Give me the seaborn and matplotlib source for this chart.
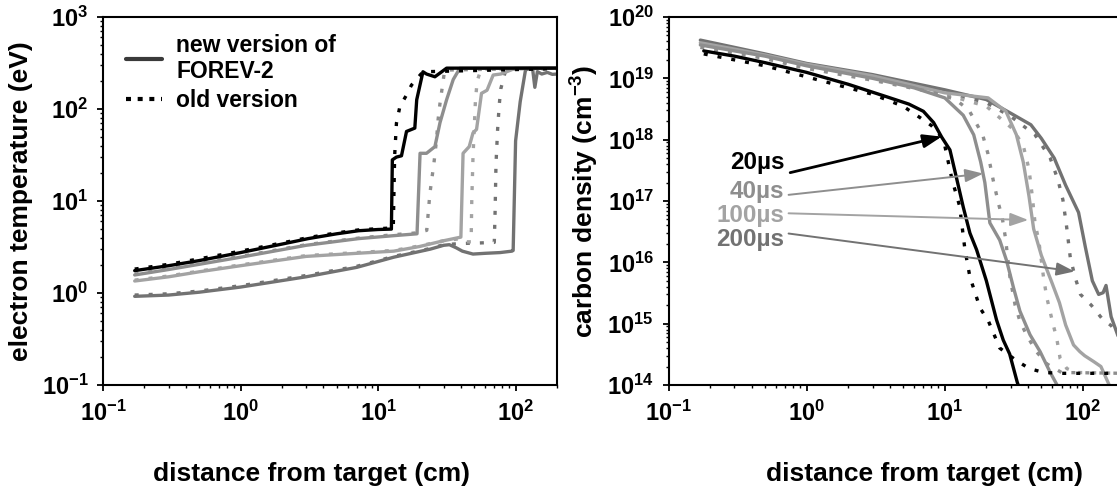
import matplotlib
matplotlib.use("Agg")
import numpy as np
import matplotlib.pyplot as plt
from matplotlib.lines import Line2D
from matplotlib.ticker import LogLocator, FuncFormatter, NullFormatter
import seaborn as sns

# ---------------- electron temperature (eV) vs distance (cm) ----------------
t20_new_x = [0.17, 0.3, 0.5, 1.0, 2.0, 3.1, 5.0, 7.2, 10.0, 12.5, 12.7, 13.6, 14.8, 16.1, 18.5, 19.1, 21.2, 22.5, 25.9, 31.5, 200]
t20_new_y = [1.75, 1.98, 2.25, 2.75, 3.4, 3.9, 4.4, 4.75, 4.9, 4.95, 28, 30, 31, 57, 62, 126, 254, 240, 224, 278, 278]
t20_old_x = [0.17, 0.3, 0.5, 1.0, 2.0, 3.1, 5.0, 7.2, 10.0, 12.9, 13.2, 13.6, 14.4, 16.1, 17.5, 21.2, 200]
t20_old_y = [1.82, 2.05, 2.35, 2.85, 3.5, 4.0, 4.5, 4.85, 5.0, 5.1, 31, 70, 106, 142, 182, 254, 275]

t40_new_x = [0.17, 0.3, 0.5, 1.0, 3.0, 7.2, 13.0, 19.2, 20.2, 22.5, 25.9, 28.2, 31.5, 35.2, 39.3, 200]
t40_new_y = [1.57, 1.8, 2.05, 2.45, 3.3, 3.9, 4.2, 4.4, 33, 33, 39, 71, 126, 209, 277, 280]
t40_old_x = [0.17, 0.3, 0.5, 1.0, 3.0, 7.2, 13.0, 19.0, 22.6, 23.8, 25.5, 26.6, 27.3, 28.2, 30.5, 200]
t40_old_y = [1.6, 1.83, 2.1, 2.5, 3.35, 3.95, 4.3, 4.5, 4.8, 12, 26, 46, 76, 115, 265, 278]

t100_new_x = [0.17, 0.3, 0.5, 1.0, 3.0, 7.0, 13.0, 20.0, 30.0, 40.0, 41.5, 46.0, 49.0, 52.0, 56.5, 62.0, 68.7, 78.0, 86.0, 100.0, 200]
t100_new_y = [1.35, 1.5, 1.7, 1.98, 2.5, 2.7, 2.85, 3.2, 3.7, 4.05, 33, 39, 55, 60, 148, 160, 234, 240, 254, 278, 280]
t100_old_x = [0.17, 0.3, 0.5, 1.0, 3.0, 7.0, 13.0, 20.0, 30.0, 40.0, 44.0, 47.5, 48.0, 49.0, 50.0, 51.0, 52.5, 56.0, 200]
t100_old_y = [1.38, 1.53, 1.73, 2.02, 2.55, 2.75, 2.9, 3.25, 3.7, 3.9, 3.6, 3.6, 10, 30, 60, 120, 200, 270, 278]

t200_new_x = [0.17, 0.3, 0.5, 1.0, 3.0, 7.0, 13.0, 24.0, 30.0, 33.0, 37.0, 41.0, 49.0, 60.0, 77.0, 94.0, 96.0,
              100.0, 108.0, 118.0, 128.0, 133.0, 138.0, 144.0, 155.0, 170.0, 185.0, 200]
t200_new_y = [0.92, 0.95, 1.02, 1.16, 1.5, 1.9, 2.45, 3.0, 3.3, 3.35, 3.1, 2.85, 2.65, 2.7, 2.75, 2.85, 2.9,
              45, 120, 265, 278, 272, 172, 255, 240, 250, 238, 240]
t200_old_x = [0.17, 0.3, 0.5, 1.0, 3.0, 7.0, 13.0, 24.0, 30.0, 40.0, 55.0, 70.0, 71.0, 72.0, 74.0, 76.0, 78.0, 85.0, 200]
t200_old_y = [0.95, 0.98, 1.05, 1.2, 1.55, 1.95, 2.5, 3.05, 3.35, 3.45, 3.5, 3.55, 8, 25, 60, 110, 165, 270, 275]

# ---------------- carbon density (cm^-3) vs distance (cm) ----------------
n20_new_x = [0.18, 0.3, 0.5, 1.0, 2.0, 3.8, 5.5, 7.0, 8.3, 9.5, 10.9, 12.2, 13.6, 15.2, 17.0, 20.0, 23.7, 26.5, 29.5, 33.5, 36.0]
n20_new_y = [2.8e19, 2.3e19, 1.8e19, 1.25e19, 8e18, 5e18, 3.8e18, 2.9e18, 1.9e18, 1.1e18, 6.8e17, 2.3e17, 8e16,
             3e16, 1.6e16, 5e15, 1.15e15, 5.4e14, 3.2e14, 1.1e14, 7e13]
n20_old_x = [0.18, 0.3, 0.5, 1.24, 3.0, 5.0, 6.6, 8.0, 9.0, 10.0, 11.3, 12.8, 14.0, 15.2, 18.0, 20.7, 25.0, 33.0,
             41.0, 52.0, 70.0, 200]
n20_old_y = [2.5e19, 2.0e19, 1.6e19, 9.3e18, 5.5e18, 3.5e18, 2.3e18, 1.7e18, 1.3e18, 8e17, 2.2e17, 8.3e16, 1.6e16,
             5.8e15, 1.8e15, 1.1e15, 4e14, 2.5e14, 1.85e14, 1.6e14, 1.55e14, 1.55e14]

n40_new_x = [0.17, 0.3, 0.5, 1.0, 3.0, 6.0, 10.0, 13.6, 16.2, 18.2, 19.5, 21.2, 25.0, 28.0, 31.4, 35.0, 41.4, 49.0,
             58.0, 65.0, 70.0]
n40_new_y = [3.5e19, 2.8e19, 2.3e19, 1.6e19, 1.0e19, 7e18, 4.8e18, 2.5e18, 1.2e18, 4.3e17, 2e17, 4.4e16, 2.3e16,
             1.07e16, 3.9e15, 1.6e15, 6.6e14, 3.5e14, 1.6e14, 1e14, 7e13]
n40_old_x = [0.17, 0.3, 0.5, 1.0, 3.0, 8.0, 12.0, 15.0, 18.8, 20.5, 22.4, 24.5, 26.0, 27.5, 29.6, 32.3, 35.0, 39.0,
             46.0, 55.0, 70.0, 200]
n40_old_y = [3.2e19, 2.6e19, 2.1e19, 1.45e19, 9.3e18, 6e18, 4.5e18, 3e18, 1.2e18, 6e17, 2.2e17, 9e16, 5.5e16, 2.5e16,
             5.8e15, 2e15, 1.1e15, 6.6e14, 3.5e14, 2.2e14, 1.6e14, 1.55e14]

n100_new_x = [0.17, 0.3, 0.5, 1.0, 3.0, 10.0, 20.6, 27.7, 33.0, 37.0, 40.7, 44.0, 50.0, 60.0, 67.6, 75.0, 85.5, 95.0,
              103.0, 120.0, 135.0, 155.0, 165.0]
n100_new_y = [3.8e19, 3.0e19, 2.4e19, 1.7e19, 1.1e19, 5.8e18, 4.8e18, 2.9e18, 1.2e18, 4.3e17, 1.2e17, 3.5e16, 1.3e16,
              4.5e15, 2.2e15, 9.5e14, 4.5e14, 3.5e14, 3.0e14, 2.4e14, 2.0e14, 1.0e14, 7e13]
n100_old_x = [0.17, 0.3, 0.5, 1.0, 3.0, 10.0, 20.0, 31.0, 37.0, 40.7, 43.0, 45.0, 48.0, 51.8, 54.7, 61.0, 64.6, 68.4,
              76.5, 90.0, 200]
n100_old_y = [3.6e19, 2.9e19, 2.3e19, 1.6e19, 1.05e19, 5.5e18, 3.5e18, 1.5e18, 8e17, 3.3e17, 1.2e17, 4.4e16, 2.2e16,
              5.8e15, 2.7e15, 9.5e14, 5.8e14, 2.7e14, 1.85e14, 1.6e14, 1.55e14]

n200_new_x = [0.17, 0.3, 0.5, 1.0, 3.0, 10.0, 20.0, 30.0, 42.0, 50.0, 62.0, 75.0, 93.0, 104.0, 117.0, 130.0, 140.0,
              147.0, 160.0, 183.0, 200.0]
n200_new_y = [4.2e19, 3.2e19, 2.5e19, 1.75e19, 1.15e19, 6.5e18, 4.5e18, 2.7e18, 1.75e18, 1.05e18, 5e17, 1.8e17,
              6.5e16, 1.8e16, 5e15, 3e15, 3.2e15, 4.2e15, 1.3e15, 5.6e14, 3e14]
n200_old_x = [0.17, 0.3, 0.5, 1.0, 3.0, 10.0, 20.0, 30.0, 45.0, 58.0, 66.0, 71.6, 76.0, 81.0, 88.0, 96.0, 115.0,
              138.0, 160.0, 182.0, 200.0]
n200_old_y = [3.7e19, 3.0e19, 2.4e19, 1.65e19, 1.1e19, 6e18, 4e18, 2.4e18, 1.2e18, 5e17, 2.2e17, 1.05e17, 4e16,
              1.2e16, 5.6e15, 3e15, 2e15, 1.2e15, 9.3e14, 6.3e14, 4.5e14]

# time labels and the points their arrows point to
time_labels = ["20\u00b5s", "40\u00b5s", "100\u00b5s", "200\u00b5s"]
label_pos_y = [4.2e17, 1.45e17, 5.9e16, 2.4e16]
arrow_start = [(0.76, 2.9e17), (0.74, 1.26e17), (0.74, 6.3e16), (0.74, 2.95e16)]
arrow_tip = [(9.5, 1.12e18), (19.0, 2.8e17), (40.2, 4.9e16), (87.0, 7.1e15)]

legend_labels = ["new version of\nFOREV-2", "old version"]

# ---------------- style ----------------
sns.set_theme(style="ticks")
plt.rcParams["font.family"] = ["Liberation Sans", "DejaVu Sans"]
plt.rcParams["font.weight"] = "bold"
plt.rcParams["axes.labelweight"] = "bold"
plt.rcParams["text.color"] = "black"
plt.rcParams["axes.labelcolor"] = "black"
plt.rcParams["xtick.color"] = "black"
plt.rcParams["ytick.color"] = "black"
plt.rcParams["axes.edgecolor"] = "black"
plt.rcParams["mathtext.fontset"] = "custom"
plt.rcParams["mathtext.rm"] = "Liberation Sans:bold"
plt.rcParams["mathtext.bf"] = "Liberation Sans:bold"
plt.rcParams["mathtext.it"] = "Liberation Sans:bold:italic"
plt.rcParams["mathtext.default"] = "bf"

colors = {"20": "#000000", "40": "#8e8e8e", "100": "#a3a3a3", "200": "#727272"}
dot_style = (0, (1.2, 3.0))
LW_NEW = 2.4
LW_OLD = 2.4

fig = plt.figure(figsize=(11.17, 4.87), dpi=100)
ax1 = fig.add_axes([103 / 1117, 102 / 487, 454 / 1117, 368 / 487])
ax2 = fig.add_axes([668.5 / 1117, 102 / 487, 456 / 1117, 368 / 487])


def decade_label(v, pos):
    return r"$\mathbf{10^{%d}}$" % int(round(np.log10(v)))


def style_axis(ax):
    ax.set_xscale("log")
    ax.set_yscale("log")
    ax.xaxis.set_major_locator(LogLocator(base=10, numticks=20))
    ax.yaxis.set_major_locator(LogLocator(base=10, numticks=20))
    ax.xaxis.set_minor_locator(LogLocator(base=10, subs=np.arange(2, 10), numticks=40))
    ax.yaxis.set_minor_locator(LogLocator(base=10, subs=np.arange(2, 10), numticks=40))
    ax.xaxis.set_major_formatter(FuncFormatter(decade_label))
    ax.yaxis.set_major_formatter(FuncFormatter(decade_label))
    ax.xaxis.set_minor_formatter(NullFormatter())
    ax.yaxis.set_minor_formatter(NullFormatter())
    ax.tick_params(axis="both", which="major", direction="out", length=4.5, width=1.3,
                   labelsize=17, color="black", labelcolor="black")
    ax.tick_params(axis="x", which="major", pad=7)
    ax.tick_params(axis="y", which="major", pad=6)
    ax.tick_params(axis="both", which="minor", direction="out", length=2.5, width=1.0, color="black")
    for sp in ax.spines.values():
        sp.set_visible(True)
        sp.set_linewidth(1.5)
        sp.set_color("black")
    ax.set_facecolor("white")


def draw(ax, x, y, color, ls, lw):
    sns.lineplot(x=x, y=y, ax=ax, color=color, linestyle=ls, linewidth=lw,
                 sort=False, estimator=None, legend=False)


# ---------- left panel: electron temperature ----------
style_axis(ax1)
left_series = [
    ("200", t200_old_x, t200_old_y, t200_new_x, t200_new_y),
    ("100", t100_old_x, t100_old_y, t100_new_x, t100_new_y),
    ("40", t40_old_x, t40_old_y, t40_new_x, t40_new_y),
    ("20", t20_old_x, t20_old_y, t20_new_x, t20_new_y),
]
for key, ox, oy, nx, ny in left_series:
    draw(ax1, nx, ny, colors[key], "-", LW_NEW)
    draw(ax1, ox, oy, colors[key], dot_style, LW_OLD)
ax1.set_xlim(0.1, 200)
ax1.set_ylim(0.1, 1000)
ax1.set_xlabel("distance from target (cm)", fontsize=19, fontweight="bold", color="black")
ax1.set_ylabel("electron temperature (eV)", fontsize=19, fontweight="bold", color="black")
ax1.xaxis.set_label_coords(0.46, -0.21)
ax1.yaxis.set_label_coords(-0.155, 0.5)

handles = [Line2D([], [], color="#3a3a3a", lw=3.0, linestyle="-"),
           Line2D([], [], color="black", lw=3.0, linestyle=(0, (1.2, 1.6)))]
leg = ax1.legend(handles, legend_labels, loc="upper left", bbox_to_anchor=(0.05, 0.955),
                 frameon=False, fontsize=16.5, handlelength=1.6, handletextpad=0.6,
                 labelspacing=0.25, borderpad=0, borderaxespad=0)
for t in leg.get_texts():
    t.set_color("black")

# ---------- right panel: carbon density ----------
style_axis(ax2)
right_series = [
    ("200", n200_old_x, n200_old_y, n200_new_x, n200_new_y),
    ("100", n100_old_x, n100_old_y, n100_new_x, n100_new_y),
    ("40", n40_old_x, n40_old_y, n40_new_x, n40_new_y),
    ("20", n20_old_x, n20_old_y, n20_new_x, n20_new_y),
]
for key, ox, oy, nx, ny in right_series:
    draw(ax2, nx, ny, colors[key], "-", LW_NEW)
    draw(ax2, ox, oy, colors[key], dot_style, LW_OLD)
ax2.set_xlim(0.1, 200)
ax2.set_ylim(1e14, 1e20)
ax2.set_xlabel("distance from target (cm)", fontsize=19, fontweight="bold", color="black")
ax2.set_ylabel(r"carbon density (cm$^{\mathbf{-3}}$)", fontsize=19, fontweight="bold", color="black")
ax2.xaxis.set_label_coords(0.5625, -0.21)
ax2.yaxis.set_label_coords(-0.148, 0.5)

key_order = ["20", "40", "100", "200"]
for i, (lab, ly, st, tip) in enumerate(zip(time_labels, label_pos_y, arrow_start, arrow_tip)):
    c = colors[key_order[i]]
    ax2.text(0.69, ly, lab, color=c, fontsize=17.5, fontweight="bold", ha="right", va="center")
    ax2.annotate("", xy=tip, xytext=st,
                 arrowprops=dict(arrowstyle="-|>,head_length=0.55,head_width=0.2",
                                 color=c, lw=2.0 if i == 0 else 1.4,
                                 shrinkA=0, shrinkB=0, mutation_scale=20))

fig.savefig("out.png", dpi=100)
